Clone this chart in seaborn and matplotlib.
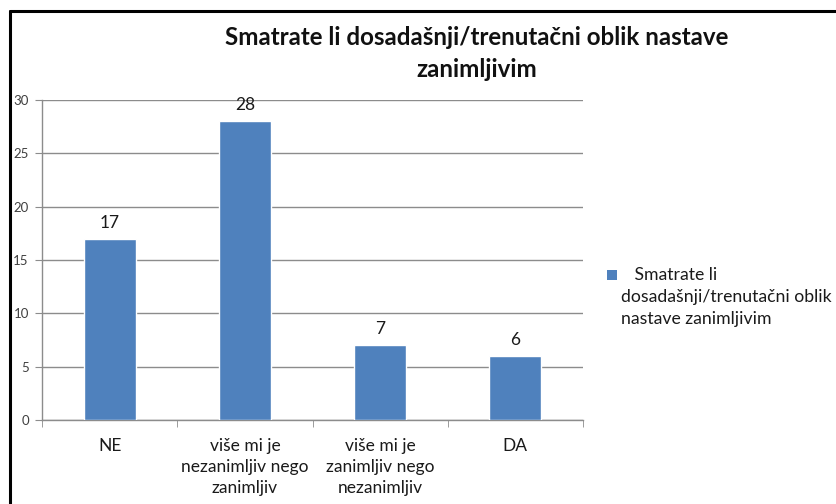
import matplotlib
matplotlib.use("Agg")
import matplotlib.pyplot as plt
import seaborn as sns
import pandas as pd
from matplotlib.lines import Line2D
from matplotlib.patches import Rectangle

categories = ["NE", "više mi je\nnezanimljiv nego\nzanimljiv",
              "više mi je\nzanimljiv nego\nnezanimljiv", "DA"]
counts = [17, 28, 7, 6]
y_ticks = [0, 5, 10, 15, 20, 25, 30]
title = "Smatrate li dosadašnji/trenutačni oblik nastave\nzanimljivim"
legend_label = "   Smatrate li\ndosadašnji/trenutačni oblik\nnastave zanimljivim"

sns.set_style("white")
plt.rcParams["font.family"] = ["Lato", "DejaVu Sans"]

W, H = 837, 504
fig = plt.figure(figsize=(W / 100, H / 100), dpi=100)
fig.patch.set_facecolor("white")

ax = fig.add_axes([42 / W, (H - 420) / H, (583 - 42) / W, (420 - 100) / H])
df = pd.DataFrame({"odgovor": categories, "broj": counts})
bar_color = "#4F81BD"
sns.barplot(data=df, x="odgovor", y="broj", color=bar_color, width=0.385,
            saturation=1, ax=ax, zorder=3)

ax.set_ylim(0, 30)
ax.set_xlim(-0.5, len(categories) - 0.5)
ax.set_yticks(y_ticks)
ax.set_xlabel("")
ax.set_ylabel("")

grid_color = "#8C8C8C"
ax.yaxis.grid(True, color=grid_color, linewidth=1.0, zorder=0)
ax.xaxis.grid(False)
for s in ["top", "right"]:
    ax.spines[s].set_visible(False)
for s in ["left", "bottom"]:
    ax.spines[s].set_color(grid_color)
    ax.spines[s].set_linewidth(1.0)

ax.tick_params(axis="y", which="major", left=True, length=5, color=grid_color,
               labelsize=9.5, labelcolor="#404040", pad=4.5)
ax.tick_params(axis="x", which="major", bottom=False, length=0,
               labelsize=12.5, labelcolor="#1a1a1a", pad=13)
ax.set_xticks([i - 0.5 for i in range(len(categories) + 1)], minor=True)
ax.tick_params(axis="x", which="minor", bottom=True, length=5, color=grid_color)
for lbl in ax.get_xticklabels():
    lbl.set_linespacing(1.37)

for i, v in enumerate(counts):
    ax.text(i, v + 0.75, str(v), ha="center", va="bottom", fontsize=12.5,
            color="#1a1a1a")

fig.text(477 / W, 1 - 53.5 / H, title, ha="center", va="center",
         fontsize=17.4, fontweight="bold", color="#111111", linespacing=1.5)

# legend: square marker next to the wrapped series name
fig.add_artist(Rectangle((607 / W, 1 - 280 / H), 10 / W, 10 / H,
                         transform=fig.transFigure, facecolor=bar_color,
                         edgecolor="none"))
fig.text(621 / W, 1 - 297 / H, legend_label, ha="left", va="center",
         fontsize=12.7, color="#1a1a1a", linespacing=1.47,
         transform=fig.transFigure)

# outer frame
fig.add_artist(Line2D([10 / W, 10 / W], [0, 1 - 11 / H], color="black",
                      linewidth=2.2, transform=fig.transFigure))
fig.add_artist(Line2D([10 / W, 1], [1 - 11 / H, 1 - 11 / H], color="black",
                      linewidth=2.2, transform=fig.transFigure))

fig.savefig("out.png", dpi=100)
